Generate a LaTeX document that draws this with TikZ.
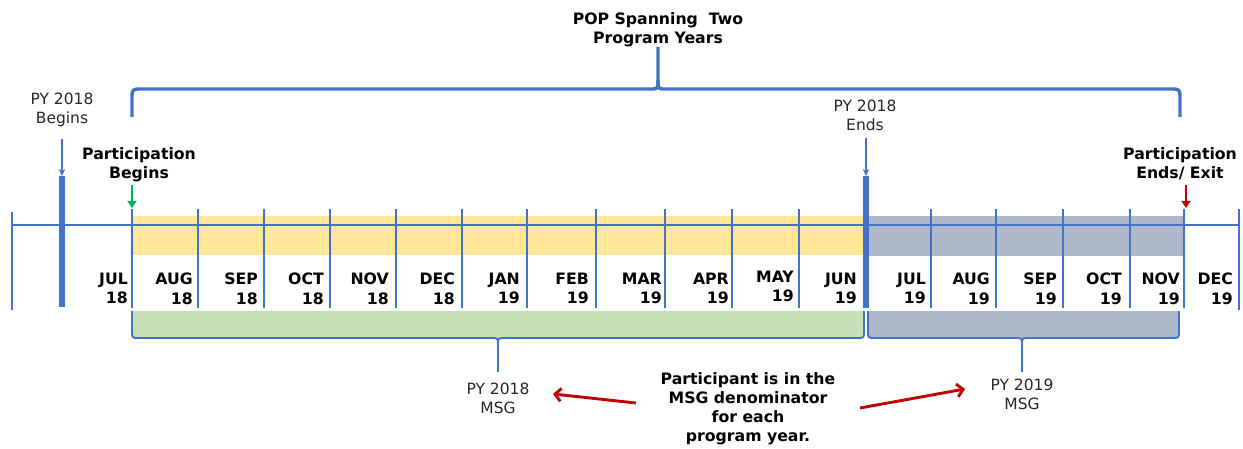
\documentclass[tikz,border=0pt]{standalone}
\usepackage{fontspec}
\setmainfont{DejaVu Sans}
\usetikzlibrary{arrows.meta}
\definecolor{tlblue}{HTML}{4472C4}
\definecolor{bandyellow}{HTML}{FFE699}
\definecolor{bandgrey}{HTML}{ADB9CA}
\definecolor{bandgreen}{HTML}{C5E0B4}
\definecolor{arrred}{HTML}{C00000}
\definecolor{arrgreen}{HTML}{00B050}
\definecolor{txtgray}{HTML}{262626}
\begin{document}
\begin{tikzpicture}[x=1pt,y=-1pt,
  lbl/.style={font=\fontsize{15.5}{19.2}\selectfont, text=txtgray, align=center, inner sep=0pt, anchor=north},
  blbl/.style={font=\fontsize{15.7}{19.2}\selectfont\bfseries, text=black, align=center, inner sep=0pt, anchor=north},
  mlab/.style={font=\fontsize{15.7}{19.2}\selectfont\bfseries, text=black, align=right, inner sep=0pt, anchor=north east},
  axisline/.style={draw=tlblue, line width=2.8pt},
  tickline/.style={draw=tlblue, line width=2.7pt},
  thickbar/.style={draw=tlblue, line width=5.8pt},
  topbrace/.style={draw=tlblue, line width=3.4pt, line join=round},
  botbrace/.style={draw=tlblue, line width=1.9pt, line join=round},
  thinarrow/.style={draw=tlblue, line width=1.5pt, -{Stealth[length=7pt,width=6.5pt]}},
  partarrow/.style={line width=2.9pt, -{Triangle[length=7pt,width=9pt]}},
  msgarrow/.style={draw=arrred, line width=2.9pt, -{Straight Barb[length=6pt,width=13pt]}}
]
\useasboundingbox (0,0) rectangle (1243,449);

% bands
\fill[bandyellow] (132,216) rectangle (866,255);
\fill[bandgrey] (866,216) rectangle (1184,256);

% bottom braces
\fill[bandgreen] (132,311) -- (132,331) .. controls (132,338) .. (139,338) -- (857,338) .. controls (864,338) .. (864,331) -- (864,311) -- cycle;
\draw[botbrace] (132,311) -- (132,331) .. controls (132,338) .. (139,338) -- (491,338) .. controls (498,338) .. (498,345) -- (498,372);
\draw[botbrace] (498,345) .. controls (498,338) .. (505,338) -- (857,338) .. controls (864,338) .. (864,331) -- (864,311);

\fill[bandgrey] (868,311) -- (868,331) .. controls (868,338) .. (875,338) -- (1172,338) .. controls (1179,338) .. (1179,331) -- (1179,311) -- cycle;
\draw[botbrace] (868,311) -- (868,331) .. controls (868,338) .. (875,338) -- (1015,338) .. controls (1022,338) .. (1022,345) -- (1022,372);
\draw[botbrace] (1022,345) .. controls (1022,338) .. (1029,338) -- (1172,338) .. controls (1179,338) .. (1179,331) -- (1179,311);

% top brace
\draw[topbrace] (132,117) -- (132,99) .. controls (132,89) .. (142,89) -- (650,89) .. controls (658,89) .. (658,80) -- (658,47);
\draw[topbrace] (658,80) .. controls (658,89) .. (666,89) -- (1170,89) .. controls (1180,89) .. (1180,99) -- (1180,117);

% axis
\coordinate (axL) at (12,225);
\coordinate (axR) at (1239,225);
\draw[axisline] (axL) -- (axR);
\draw[tickline] (12,212) -- (12,310);
\draw[tickline] (1239,209) -- (1239,310);
\foreach \x in {132,198,264,330,396,462,527,596,665,732,799,931,996,1063,1130,1184}
  \draw[tickline] (\x,209) -- (\x,308);
\coordinate (barA) at (62,176);
\coordinate (barB) at (866,176);
\draw[thickbar] (barA) -- (62,307);
\draw[thickbar] (barB) -- (866,308);

% month labels
\foreach \x/\m/\yy/\ty in {128/JUL/18/273,193/AUG/18/273,258/SEP/18/273,324/OCT/18/273,389/NOV/18/273,455/DEC/18/273,520/JAN/19/273,589/FEB/19/273,662/MAR/19/273,729/APR/19/273,794/MAY/19/271,857/JUN/19/273,926/JUL/19/273,990/AUG/19/273,1057/SEP/19/273,1122/OCT/19/273,1180/NOV/19/273,1233/DEC/19/273}
  \node[mlab] (m-\m-\yy) at (\x,\ty) {\m\\\yy};

% top labels
\node[blbl] (title) at (658,12) {POP Spanning\ \ Two\\Program Years};
\node[lbl] (pybeg) at (62,93) {PY 2018\\Begins};
\node[lbl] (pyend) at (865,100) {PY 2018\\Ends};
\node[blbl] (partbeg) at (139,147) {Participation\\Begins};
\node[blbl] (partend) at (1180,147) {Participation\\Ends/ Exit};

\coordinate (pybegA) at (62,139);
\coordinate (pyendA) at (866,138);
\draw[thinarrow] (pybegA) -- (barA);
\draw[thinarrow] (pyendA) -- (barB);

\coordinate (gA) at (132,185);
\coordinate (gB) at (132,208);
\coordinate (rA) at (1186,185);
\coordinate (rB) at (1186,208);
\draw[partarrow, draw=arrgreen, fill=arrgreen] (gA) -- (gB);
\draw[partarrow, draw=arrred, fill=arrred] (rA) -- (rB);

% bottom labels
\node[lbl] (msg18) at (498,383) {PY 2018\\MSG};
\node[lbl] (msg19) at (1022,379) {PY 2019\\MSG};
\node[blbl] (note) at (748,372) {Participant is in the\\MSG denominator\\for each\\program year.};

\coordinate (lA) at (636,403);
\coordinate (lB) at (553,394);
\coordinate (rrA) at (860,408);
\coordinate (rrB) at (965,389);
\draw[msgarrow] (lA) -- (lB);
\draw[msgarrow] (rrA) -- (rrB);
\end{tikzpicture}
\end{document}
